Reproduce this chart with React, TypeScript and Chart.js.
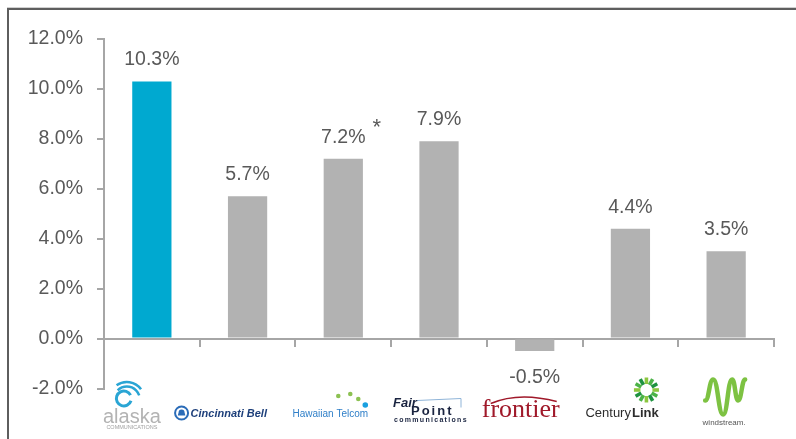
import React, { useEffect, useRef } from "react";
import { Chart, registerables } from "chart.js";

Chart.register(...registerables);

// Revenue growth by carrier
const companies = [
  "Alaska Communications",
  "Cincinnati Bell",
  "Hawaiian Telcom",
  "FairPoint Communications",
  "Frontier",
  "CenturyLink",
  "Windstream",
];
const growth = [10.3, 5.7, 7.2, 7.9, -0.5, 4.4, 3.5];
const footnoteMarks = ["", "", "*", "", "", "", ""];
const yTicks = [-2, 0, 2, 4, 6, 8, 10, 12];
const barColors = ["#00a9d0", "#b2b2b2", "#b2b2b2", "#b2b2b2", "#b2b2b2", "#b2b2b2", "#b2b2b2"];

const FONT = "'Liberation Sans', Arial, sans-serif";
const TEXT = "#595959";
const AXIS = "#a6a6a6";
const LABEL_SIZE = 19.5;

const fmtPct = (v: number) => `${v.toFixed(1)}%`;

type Ctx = CanvasRenderingContext2D;

function drawAlaska(ctx: Ctx, cx: number, by: number) {
  const x = cx - 20;
  ctx.save();
  ctx.strokeStyle = "#2aa5d4";
  ctx.lineWidth = 3;
  ctx.beginPath();
  ctx.arc(x - 8, by + 10, 7.5, Math.PI * 0.1, Math.PI * 1.85, false);
  ctx.stroke();
  ctx.lineWidth = 2.5;
  ctx.beginPath();
  ctx.arc(x - 5, by + 11, 13, Math.PI * 1.25, Math.PI * 1.9);
  ctx.stroke();
  ctx.beginPath();
  ctx.arc(x - 5, by + 11, 17.5, Math.PI * 1.3, Math.PI * 1.8);
  ctx.stroke();
  ctx.textAlign = "center";
  ctx.textBaseline = "alphabetic";
  ctx.fillStyle = "#b3b3b3";
  ctx.font = `20px ${FONT}`;
  ctx.fillText("alaska", x, by + 34.5);
  ctx.fillStyle = "#a0a0a0";
  ctx.font = `5.5px ${FONT}`;
  ctx.fillText("COMMUNICATIONS", x, by + 40.5);
  ctx.restore();
}

function drawCincinnati(ctx: Ctx, cx: number, by: number) {
  const ix = cx - 66;
  const iy = by + 24.5;
  ctx.save();
  ctx.strokeStyle = "#2b6cb8";
  ctx.lineWidth = 2;
  ctx.beginPath();
  ctx.arc(ix, iy, 6.5, 0, Math.PI * 2);
  ctx.stroke();
  ctx.fillStyle = "#2b6cb8";
  ctx.beginPath();
  ctx.arc(ix, iy - 0.5, 3, Math.PI, 0);
  ctx.lineTo(ix + 3.8, iy + 2.5);
  ctx.lineTo(ix - 3.8, iy + 2.5);
  ctx.closePath();
  ctx.fill();
  ctx.textAlign = "left";
  ctx.textBaseline = "alphabetic";
  ctx.fillStyle = "#1d3f7a";
  ctx.font = `italic bold 11px ${FONT}`;
  ctx.fillText("Cincinnati Bell", cx - 57, by + 28.5);
  ctx.restore();
}

function drawHawaiian(ctx: Ctx, cx: number, by: number) {
  ctx.save();
  ctx.fillStyle = "#8cc152";
  [[-5, 7.5], [7, 5.5], [15, 10.5]].forEach(([dx, dy]) => {
    ctx.beginPath();
    ctx.arc(cx + dx, by + dy, 2.3, 0, Math.PI * 2);
    ctx.fill();
  });
  ctx.fillStyle = "#1aa0e0";
  ctx.beginPath();
  ctx.arc(cx + 22, by + 16.5, 2.8, 0, Math.PI * 2);
  ctx.fill();
  ctx.textAlign = "center";
  ctx.textBaseline = "alphabetic";
  ctx.fillStyle = "#2f7fc8";
  ctx.font = `10px ${FONT}`;
  ctx.fillText("Hawaiian Telcom", cx - 13, by + 28.5);
  ctx.restore();
}

function drawFairPoint(ctx: Ctx, cx: number, by: number) {
  ctx.save();
  ctx.strokeStyle = "#8fb4d8";
  ctx.lineWidth = 1;
  ctx.beginPath();
  ctx.moveTo(cx - 22, by + 12);
  ctx.lineTo(cx + 22, by + 10);
  ctx.lineTo(cx + 22, by + 19);
  ctx.stroke();
  ctx.textAlign = "left";
  ctx.textBaseline = "alphabetic";
  ctx.fillStyle = "#1a2440";
  ctx.font = `italic bold 13px ${FONT}`;
  ctx.fillText("Fair", cx - 46, by + 18.5);
  (ctx as any).letterSpacing = "2px";
  ctx.font = `bold 13px ${FONT}`;
  ctx.fillText("Point", cx - 28, by + 26.5);
  (ctx as any).letterSpacing = "1.3px";
  ctx.font = `bold 7px ${FONT}`;
  ctx.fillText("communications", cx - 45, by + 33);
  (ctx as any).letterSpacing = "0px";
  ctx.restore();
}

function drawFrontier(ctx: Ctx, cx: number, by: number) {
  const x = cx - 14;
  ctx.save();
  ctx.strokeStyle = "#a0192a";
  ctx.lineWidth = 1.5;
  ctx.beginPath();
  ctx.moveTo(x - 30, by + 15);
  ctx.quadraticCurveTo(x - 2, by + 3, x + 36, by + 13);
  ctx.stroke();
  ctx.textAlign = "center";
  ctx.textBaseline = "alphabetic";
  ctx.fillStyle = "#a0192a";
  ctx.font = `26px 'Liberation Serif', 'Times New Roman', serif`;
  ctx.fillText("frontier", x, by + 28.5);
  ctx.restore();
}

function drawCenturyLink(ctx: Ctx, cx: number, by: number) {
  const sx = cx + 16;
  const sy = by + 1.5;
  ctx.save();
  const greens = ["#8cc63f", "#4cb348", "#1f9340"];
  ctx.lineCap = "butt";
  ctx.lineWidth = 3.6;
  for (let i = 0; i < 12; i++) {
    const a = (i / 12) * Math.PI * 2 - Math.PI / 2;
    ctx.strokeStyle = greens[i % 3];
    ctx.beginPath();
    ctx.moveTo(sx + Math.cos(a) * 6, sy + Math.sin(a) * 6);
    ctx.lineTo(sx + Math.cos(a) * 12.5, sy + Math.sin(a) * 12.5);
    ctx.stroke();
  }
  ctx.textAlign = "left";
  ctx.textBaseline = "alphabetic";
  ctx.fillStyle = "#2d2d2d";
  ctx.font = `13px ${FONT}`;
  const x0 = cx - 45;
  ctx.fillText("Century", x0, by + 28.5);
  const w = ctx.measureText("Century").width;
  ctx.font = `bold 13px ${FONT}`;
  ctx.fillText("Link", x0 + w + 1, by + 28.5);
  ctx.restore();
}

function drawWindstream(ctx: Ctx, cx: number, by: number) {
  ctx.save();
  ctx.strokeStyle = "#7dc242";
  ctx.lineWidth = 4.5;
  ctx.lineCap = "round";
  ctx.lineJoin = "round";
  const pts: [number, number][] = [
    [cx - 21, by + 12],
    [cx - 13, by - 9],
    [cx - 3, by + 26],
    [cx + 6, by - 9],
    [cx + 12, by + 12],
    [cx + 19, by - 9],
  ];
  ctx.beginPath();
  ctx.moveTo(pts[0][0], pts[0][1]);
  for (let i = 0; i < pts.length - 1; i++) {
    const [x1, y1] = pts[i];
    const [x2, y2] = pts[i + 1];
    const dx = (x2 - x1) / 2;
    ctx.bezierCurveTo(x1 + dx, y1, x2 - dx, y2, x2, y2);
  }
  ctx.stroke();
  ctx.textAlign = "center";
  ctx.textBaseline = "alphabetic";
  ctx.fillStyle = "#555555";
  ctx.font = `8px ${FONT}`;
  ctx.fillText("windstream.", cx - 2, by + 36.5);
  ctx.restore();
}

const logoPainters = [
  drawAlaska,
  drawCincinnati,
  drawHawaiian,
  drawFairPoint,
  drawFrontier,
  drawCenturyLink,
  drawWindstream,
];

const labelsPlugin = {
  id: "barLabelsAndLogos",
  afterDraw(chart: any) {
    const ctx: Ctx = chart.ctx;
    const meta = chart.getDatasetMeta(0);
    const xScale = chart.scales.x;
    const bottom = chart.chartArea.bottom;

    ctx.save();
    ctx.font = `${LABEL_SIZE}px ${FONT}`;
    ctx.fillStyle = TEXT;
    ctx.textAlign = "center";
    ctx.textBaseline = "alphabetic";
    meta.data.forEach((bar: any, i: number) => {
      const v = growth[i];
      const text = fmtPct(v);
      const y = v >= 0 ? bar.y - 16 : bar.y + 32;
      ctx.fillText(text, bar.x, y);
      if (footnoteMarks[i]) {
        const w = ctx.measureText(text).width;
        ctx.save();
        ctx.font = `22px ${FONT}`;
        ctx.textAlign = "left";
        ctx.fillText(footnoteMarks[i], bar.x + w / 2 + 7, y - 9);
        ctx.restore();
      }
    });
    ctx.restore();

    companies.forEach((_, i) => {
      const cx = xScale.getPixelForValue(i);
      logoPainters[i](ctx, cx, bottom);
    });
  },
};

export default function App() {
  const canvasRef = useRef<HTMLCanvasElement | null>(null);

  useEffect(() => {
    const canvas = canvasRef.current;
    if (!canvas) return;
    const chart = new Chart(canvas, {
      type: "bar",
      data: {
        labels: companies,
        datasets: [
          {
            data: growth,
            backgroundColor: barColors,
            borderWidth: 0,
            barPercentage: 0.41,
            categoryPercentage: 1,
          },
        ],
      },
      options: {
        responsive: false,
        animation: false,
        layout: { padding: { top: 39, right: 22, bottom: 50.5, left: 0 } },
        plugins: {
          legend: { display: false },
          tooltip: { enabled: false },
        },
        scales: {
          x: {
            position: { y: 0 } as any,
            offset: true,
            grid: {
              display: true,
              offset: true,
              drawOnChartArea: false,
              drawTicks: true,
              tickLength: 7,
              color: AXIS,
              lineWidth: 2,
            },
            border: { display: true, color: AXIS, width: 2 },
            ticks: { display: false },
          },
          y: {
            min: -2,
            max: 12,
            afterBuildTicks: (scale: any) => {
              scale.ticks = yTicks.map((value) => ({ value }));
            },
            afterFit: (scale: any) => {
              scale.width = 104;
            },
            ticks: {
              callback: (v: any) => fmtPct(Number(v)),
              font: { size: LABEL_SIZE, family: FONT },
              color: TEXT,
              padding: 14,
            },
            grid: {
              drawOnChartArea: false,
              drawTicks: true,
              tickLength: 7,
              color: AXIS,
              lineWidth: 2,
            },
            border: { display: true, color: AXIS, width: 2 },
          },
        },
      },
      plugins: [labelsPlugin],
    });
    return () => chart.destroy();
  }, []);

  return (
    <div
      style={{
        position: "fixed",
        left: 0,
        top: 0,
        width: 796,
        height: 439,
        background: "#ffffff",
        overflow: "hidden",
      }}
    >
      <div
        style={{
          position: "absolute",
          left: 7,
          top: 8,
          width: 900,
          height: 600,
          borderTop: "2px solid #5e5e5e",
          borderLeft: "2px solid #5e5e5e",
          boxShadow: "0 -1px 0 #d0d0d0",
        }}
      />
      <canvas
        ref={canvasRef}
        width={796}
        height={439}
        style={{ position: "absolute", left: 0, top: 0 }}
      />
    </div>
  );
}
